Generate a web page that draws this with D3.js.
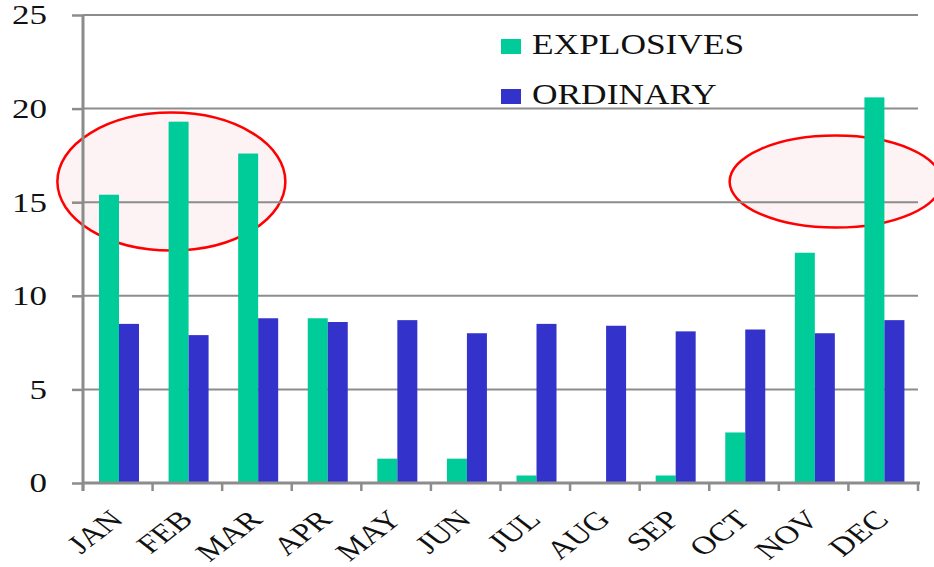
<!DOCTYPE html>
<html>
<head>
<meta charset="utf-8">
<script src="https://cdn.jsdelivr.net/npm/d3@7"></script>
<style>
  html, body { margin: 0; padding: 0; background: #fff; }
  svg { display: block; }
</style>
</head>
<body>
<svg id="chart" width="934" height="567"></svg>
<script>
// Monthly counts by type
const months = ["JAN","FEB","MAR","APR","MAY","JUN","JUL","AUG","SEP","OCT","NOV","DEC"];
const explosives = [15.4, 19.3, 17.6, 8.8, 1.3, 1.3, 0.4, 0, 0.4, 2.7, 12.3, 20.6];
const ordinary   = [8.5, 7.9, 8.8, 8.6, 8.7, 8.0, 8.5, 8.4, 8.1, 8.2, 8.0, 8.7];
const yTicks = [0, 5, 10, 15, 20, 25];
const seriesNames = ["EXPLOSIVES", "ORDINARY"];
const seriesColors = ["#00CC99", "#3333CC"];

const FONT = "'Liberation Serif', 'Times New Roman', 'DejaVu Serif', serif";
const WIDE = 1.25; // horizontal widening applied to all lettering

const svg = d3.select("#chart");
const plotLeft = 83, plotRight = 918, plotTop = 15, plotBottom = 483;

const x = d3.scaleBand().domain(months).range([plotLeft, plotRight]).paddingInner(0).paddingOuter(0);
const y = d3.scaleLinear().domain([0, 25]).range([plotBottom, plotTop]);

// Highlight ellipses around the winter peaks (behind the grid and bars)
const ellipseSpecs = [
  { cx: x("FEB") + x.bandwidth() / 2 - 16, cy: y(16.1), rx: 114, ry: 69 },
  { cx: x("NOV") + x.bandwidth() / 2 + 22, cy: y(16.1), rx: 106, ry: 46 }
];
svg.append("g").selectAll("ellipse").data(ellipseSpecs).join("ellipse")
  .attr("cx", d => d.cx).attr("cy", d => d.cy)
  .attr("rx", d => d.rx).attr("ry", d => d.ry)
  .attr("fill", "#fdf3f4").attr("stroke", "#ff0000").attr("stroke-width", 2.5);

// Horizontal gridlines
svg.append("g").selectAll("line").data(yTicks.filter(t => t > 0)).join("line")
  .attr("x1", plotLeft).attr("x2", plotRight)
  .attr("y1", d => y(d)).attr("y2", d => y(d))
  .attr("stroke", "#8c8c8c").attr("stroke-width", 2);

// Bars
const barW = 20, offset = 16;
const bars = svg.append("g");
bars.selectAll("rect.exp").data(months).join("rect").attr("class", "exp")
  .attr("x", m => x(m) + offset)
  .attr("y", (m, i) => y(explosives[i]))
  .attr("width", barW)
  .attr("height", (m, i) => y(0) - y(explosives[i]))
  .attr("fill", seriesColors[0]);
bars.selectAll("rect.ord").data(months).join("rect").attr("class", "ord")
  .attr("x", m => x(m) + offset + barW)
  .attr("y", (m, i) => y(ordinary[i]))
  .attr("width", barW)
  .attr("height", (m, i) => y(0) - y(ordinary[i]))
  .attr("fill", seriesColors[1]);

// Y axis
const yAxis = svg.append("g").attr("transform", `translate(${plotLeft},0)`)
  .call(d3.axisLeft(y).tickValues(yTicks).tickSize(11).tickFormat(d3.format("d")));
yAxis.attr("font-family", null).attr("font-size", null);
yAxis.select(".domain").attr("stroke", "#8c8c8c").attr("stroke-width", 3)
  .attr("d", `M0,${plotTop}V${plotBottom + 8}`);
yAxis.selectAll(".tick line").attr("stroke", "#8c8c8c").attr("stroke-width", 2.5);
yAxis.selectAll(".tick text")
  .attr("x", 0)
  .attr("transform", `translate(-36,0) scale(${WIDE},1)`)
  .style("font-family", FONT).style("font-size", "28px").attr("fill", "#111");

// X axis with ticks at band boundaries
const xAxis = svg.append("g").attr("transform", `translate(0,${plotBottom})`);
xAxis.append("line").attr("x1", plotLeft).attr("x2", plotRight + 2).attr("y1", 0).attr("y2", 0)
  .attr("stroke", "#8c8c8c").attr("stroke-width", 3);
const boundaries = months.map(m => x(m)).concat([plotRight]);
xAxis.selectAll("line.tk").data(boundaries).join("line").attr("class", "tk")
  .attr("x1", d => d).attr("x2", d => d).attr("y1", 0).attr("y2", 8)
  .attr("stroke", "#8c8c8c").attr("stroke-width", 2.5);
xAxis.selectAll("text").data(months).join("text")
  .attr("transform", m => `translate(${x(m) + x.bandwidth() / 2 + 7},${38}) scale(1.3,1) rotate(-45)`)
  .attr("text-anchor", "end")
  .style("font-family", FONT).style("font-size", "26px")
  .attr("fill", "#111")
  .text(m => m);

// Legend
const legend = svg.append("g");
const legendBaselines = [54, 104];
seriesNames.forEach((name, i) => {
  const g = legend.append("g").attr("transform", `translate(501,${legendBaselines[i]})`);
  g.append("rect").attr("x", 0).attr("y", -15).attr("width", 20).attr("height", 15)
    .attr("fill", seriesColors[i]);
  g.append("text")
    .attr("transform", `translate(31,0) scale(1.22,1)`)
    .style("font-family", FONT).style("font-size", "29px")
    .attr("fill", "#111")
    .text(name);
});
</script>
</body>
</html>
